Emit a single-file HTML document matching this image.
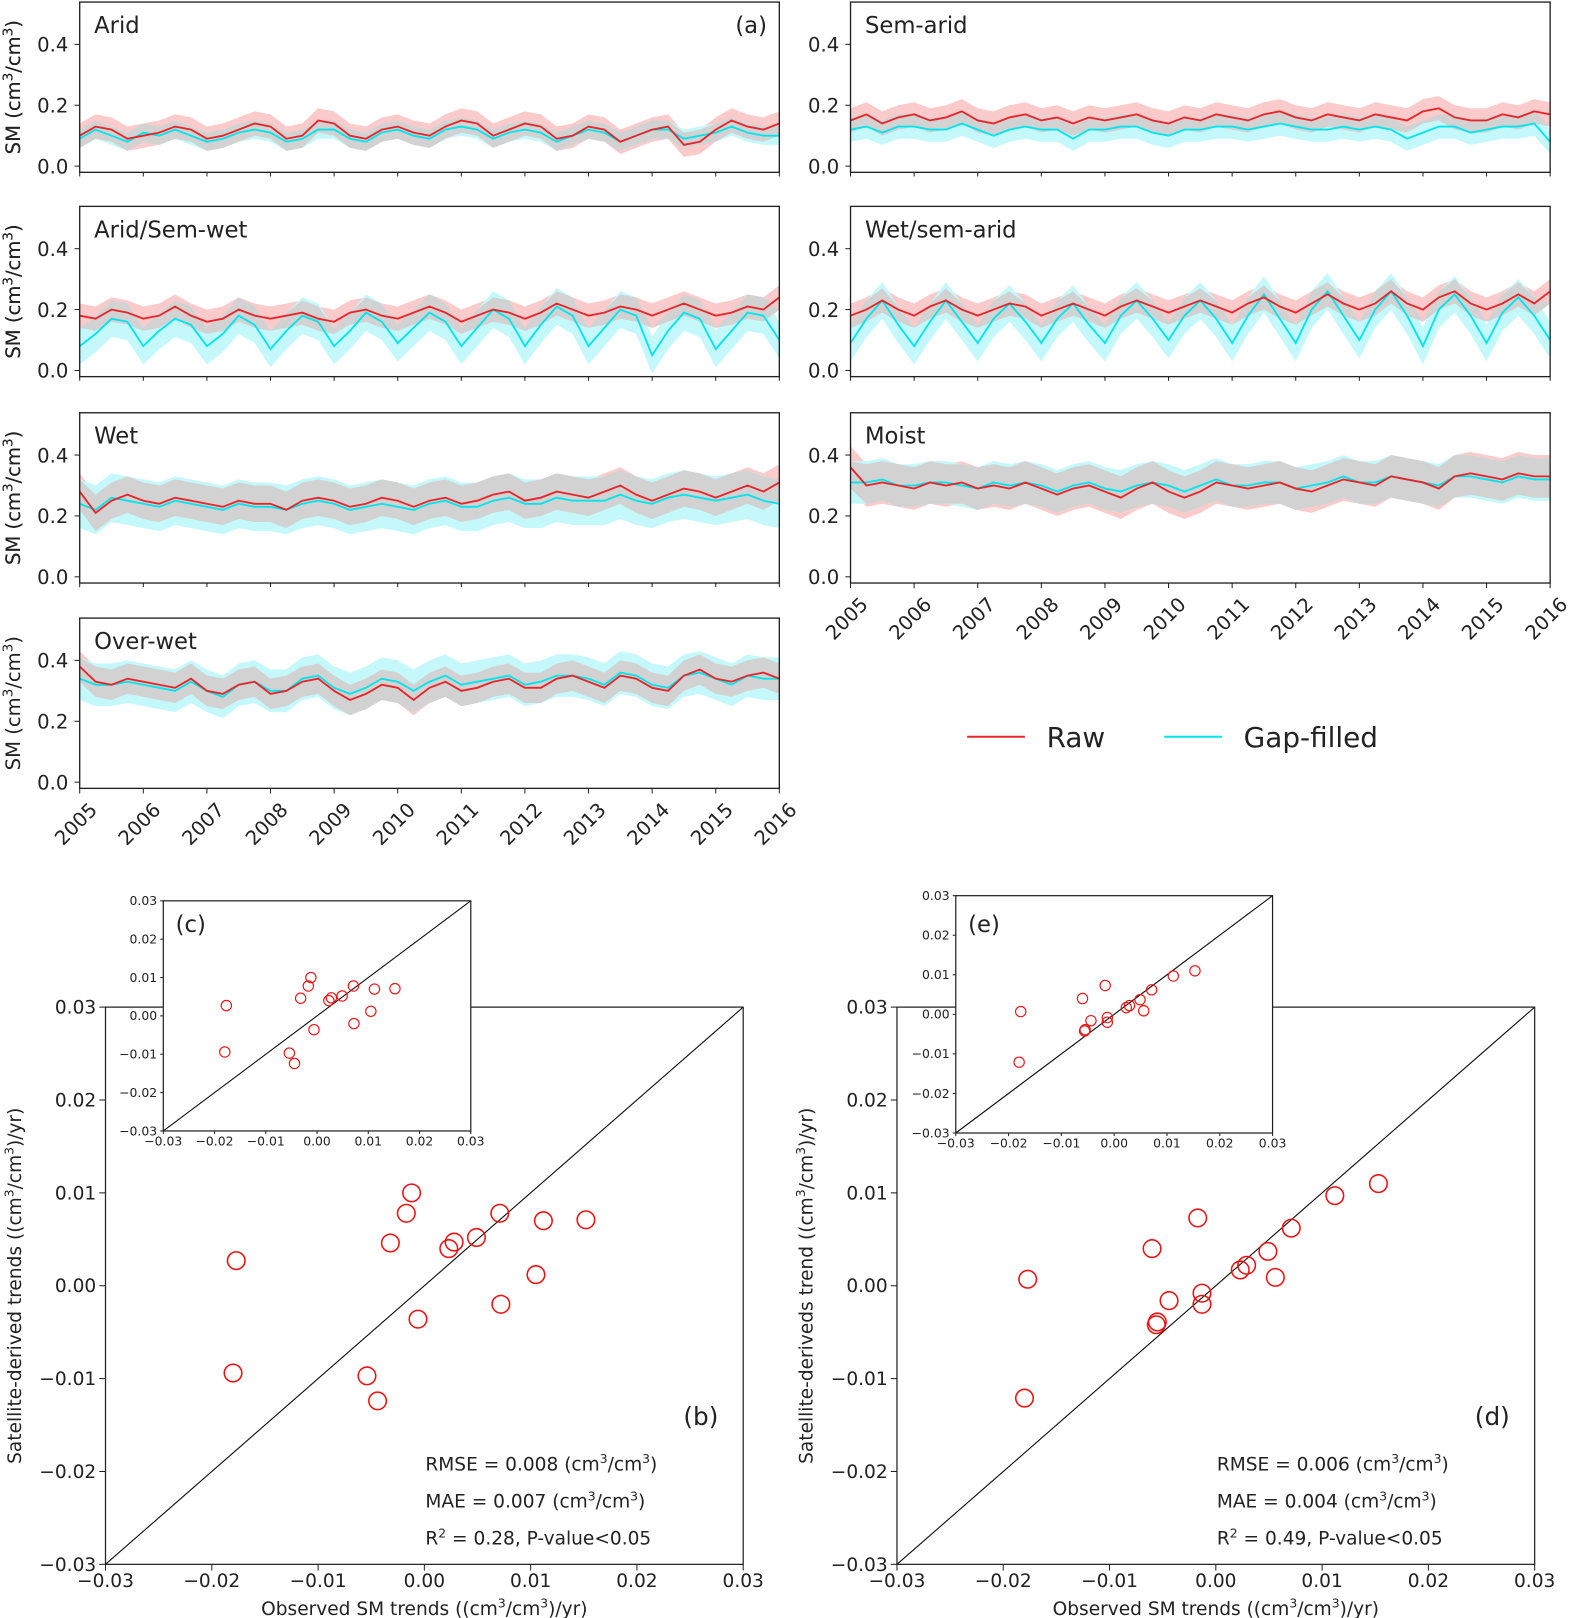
<!DOCTYPE html>
<html><head><meta charset="utf-8"><style>
html,body{margin:0;padding:0;background:#fff;}
svg{display:block;font-family:"DejaVu Sans","Liberation Sans",sans-serif;}
</style></head><body>
<svg id="fig" xmlns="http://www.w3.org/2000/svg" width="1570" height="1618" viewBox="0 0 1521 1568"></svg>
<script>
// ---------- time series data (quarterly samples 2005.0 .. 2016.0) ----------
const panelNames = ["Arid","Sem-arid","Arid/Sem-wet","Wet/sem-arid","Wet","Moist","Over-wet"];
const aridRaw=[0.10,0.13,0.12,0.09,0.10,0.11,0.13,0.12,0.09,0.10,0.12,0.14,0.13,0.09,0.10,0.15,0.14,0.10,0.09,0.12,0.13,0.11,0.10,0.13,0.15,0.14,0.10,0.12,0.14,0.13,0.09,0.10,0.13,0.12,0.08,0.10,0.12,0.13,0.07,0.08,0.12,0.15,0.13,0.12,0.14];
const aridGap=[0.09,0.12,0.10,0.08,0.11,0.10,0.12,0.10,0.08,0.09,0.11,0.12,0.11,0.08,0.09,0.12,0.12,0.09,0.08,0.11,0.12,0.10,0.09,0.12,0.13,0.12,0.09,0.11,0.12,0.11,0.08,0.10,0.12,0.11,0.08,0.10,0.12,0.12,0.09,0.10,0.11,0.13,0.11,0.10,0.10];
const semAridRaw=[0.15,0.17,0.14,0.16,0.17,0.15,0.16,0.18,0.15,0.14,0.16,0.17,0.15,0.16,0.14,0.16,0.15,0.16,0.17,0.15,0.14,0.16,0.15,0.17,0.16,0.15,0.17,0.18,0.16,0.15,0.17,0.16,0.15,0.17,0.16,0.15,0.18,0.19,0.16,0.15,0.15,0.17,0.16,0.18,0.17];
const semAridGap=[0.12,0.13,0.11,0.13,0.13,0.12,0.12,0.14,0.12,0.10,0.12,0.13,0.12,0.12,0.09,0.12,0.12,0.13,0.13,0.11,0.10,0.12,0.12,0.13,0.13,0.12,0.13,0.14,0.13,0.12,0.12,0.13,0.12,0.13,0.12,0.09,0.11,0.13,0.13,0.11,0.12,0.13,0.13,0.14,0.08];
const aridSemWetRaw=[0.18,0.17,0.20,0.19,0.17,0.18,0.21,0.18,0.16,0.17,0.20,0.18,0.17,0.18,0.19,0.17,0.16,0.19,0.20,0.18,0.17,0.19,0.21,0.19,0.16,0.18,0.20,0.19,0.17,0.19,0.22,0.20,0.18,0.19,0.21,0.20,0.18,0.20,0.22,0.20,0.18,0.19,0.21,0.20,0.24];
const aridSemWetGap=[0.08,0.12,0.17,0.16,0.08,0.13,0.17,0.15,0.08,0.12,0.18,0.15,0.07,0.13,0.18,0.16,0.08,0.13,0.19,0.16,0.09,0.14,0.19,0.16,0.08,0.14,0.20,0.17,0.08,0.15,0.21,0.18,0.08,0.14,0.20,0.18,0.05,0.13,0.19,0.17,0.07,0.13,0.19,0.18,0.10];
const wetSemAridRaw=[0.18,0.20,0.23,0.20,0.18,0.21,0.23,0.20,0.18,0.20,0.22,0.21,0.18,0.20,0.22,0.20,0.18,0.21,0.23,0.21,0.19,0.21,0.23,0.21,0.19,0.22,0.24,0.21,0.19,0.22,0.25,0.22,0.20,0.22,0.26,0.22,0.20,0.24,0.26,0.22,0.20,0.22,0.25,0.22,0.26];
const wetSemAridGap=[0.09,0.17,0.23,0.15,0.08,0.16,0.23,0.16,0.09,0.17,0.22,0.16,0.09,0.17,0.22,0.15,0.09,0.18,0.23,0.17,0.10,0.18,0.23,0.17,0.09,0.18,0.25,0.17,0.09,0.20,0.26,0.18,0.10,0.20,0.26,0.18,0.08,0.20,0.25,0.18,0.09,0.19,0.24,0.18,0.10];
const wetRaw=[0.28,0.21,0.25,0.27,0.25,0.24,0.26,0.25,0.24,0.23,0.25,0.24,0.24,0.22,0.25,0.26,0.25,0.23,0.24,0.26,0.25,0.23,0.25,0.26,0.24,0.25,0.27,0.28,0.25,0.26,0.28,0.27,0.26,0.28,0.30,0.27,0.25,0.27,0.29,0.28,0.26,0.28,0.30,0.28,0.31];
const wetGap=[0.24,0.22,0.26,0.25,0.24,0.23,0.25,0.24,0.23,0.22,0.24,0.23,0.23,0.22,0.24,0.25,0.24,0.22,0.23,0.24,0.23,0.22,0.24,0.25,0.23,0.23,0.25,0.26,0.24,0.24,0.26,0.25,0.25,0.25,0.27,0.25,0.24,0.26,0.27,0.26,0.25,0.26,0.27,0.25,0.24];
const moistRaw=[0.36,0.30,0.31,0.30,0.29,0.31,0.30,0.31,0.29,0.30,0.29,0.31,0.29,0.27,0.29,0.30,0.28,0.26,0.29,0.31,0.28,0.26,0.28,0.31,0.30,0.29,0.30,0.31,0.29,0.28,0.30,0.32,0.31,0.30,0.33,0.32,0.31,0.29,0.33,0.34,0.33,0.32,0.34,0.33,0.33];
const moistGap=[0.31,0.31,0.32,0.30,0.30,0.31,0.31,0.30,0.29,0.31,0.30,0.31,0.30,0.28,0.30,0.31,0.29,0.28,0.30,0.31,0.30,0.28,0.30,0.32,0.30,0.30,0.31,0.31,0.29,0.30,0.31,0.33,0.31,0.31,0.33,0.32,0.31,0.30,0.33,0.33,0.32,0.31,0.33,0.32,0.32];
const overWetRaw=[0.38,0.33,0.32,0.34,0.33,0.32,0.31,0.34,0.30,0.29,0.32,0.33,0.29,0.30,0.33,0.34,0.30,0.27,0.29,0.32,0.31,0.27,0.31,0.33,0.30,0.31,0.33,0.34,0.31,0.31,0.34,0.35,0.33,0.31,0.35,0.34,0.31,0.30,0.35,0.37,0.34,0.33,0.35,0.36,0.34];
const overWetGap=[0.34,0.32,0.32,0.33,0.32,0.31,0.30,0.33,0.30,0.28,0.32,0.33,0.30,0.30,0.34,0.35,0.31,0.29,0.31,0.34,0.33,0.30,0.33,0.35,0.32,0.33,0.34,0.35,0.32,0.33,0.35,0.35,0.34,0.32,0.36,0.35,0.32,0.31,0.35,0.36,0.34,0.32,0.35,0.34,0.34];
const rawSpread=[0.04,0.04,0.04,0.04,0.06,0.07,0.05];
const gapSpread=[0.03,0.04,0.06,0.06,0.08,0.07,0.07];
const yTicks=[0.0,0.2,0.4];
const yearTicks=[2005,2006,2007,2008,2009,2010,2011,2012,2013,2014,2015,2016];
// ---------- scatter data ----------
const obsB=[-0.0177,-0.0180,-0.0012,-0.0017,-0.0032,-0.0006,-0.0054,-0.0044,0.0023,0.0028,0.0049,0.0071,0.0072,0.0105,0.0112,0.0152];
const satB=[0.0027,-0.0094,0.0100,0.0078,0.0046,-0.0036,-0.0097,-0.0124,0.0040,0.0047,0.0052,0.0078,-0.0020,0.0012,0.0070,0.0071];
const obsD=[-0.0177,-0.0180,-0.0017,-0.0060,-0.0044,-0.0056,-0.0055,-0.0013,-0.0013,0.0023,0.0029,0.0049,0.0056,0.0071,0.0112,0.0153];
const satD=[0.0007,-0.0121,0.0073,0.0040,-0.0016,-0.0042,-0.0039,-0.0008,-0.0020,0.0017,0.0022,0.0037,0.0009,0.0062,0.0097,0.0110];
const trendTicks=[-0.03,-0.02,-0.01,0.00,0.01,0.02,0.03];

const NS="http://www.w3.org/2000/svg";
const svg=document.getElementById('fig');
function mk(tag,attrs,parent,txt){const e=document.createElementNS(NS,tag);for(const k in attrs)e.setAttribute(k,attrs[k]);if(txt!==undefined)e.textContent=txt;(parent||svg).appendChild(e);return e;}

const raws=[aridRaw,semAridRaw,aridSemWetRaw,wetSemAridRaw,wetRaw,moistRaw,overWetRaw];
const gaps=[aridGap,semAridGap,aridSemWetGap,wetSemAridGap,wetGap,moistGap,overWetGap];
const frames=[[77,2],[824,2],[77,200],[824,200],[77,400],[824,400],[77,599]];
const PW=678, PH=165;

function bandPath(fx,fy,lo,hi){let d='';for(let i=0;i<lo.length;i++)d+=(i?'L':'M')+fx(i)+','+fy(hi[i]);for(let i=lo.length-1;i>=0;i--)d+='L'+fx(i)+','+fy(lo[i]);return d+'Z';}
function linePath(fx,fy,v){return v.map((y,i)=>(i?'L':'M')+fx(i)+','+fy(y)).join('');}

panelNames.forEach((nm,p)=>{
  const [x0,y0]=frames[p];
  const g=mk('g',{});
  
  
  const yZero=y0+159, ppu=295;
  const fy=v=>yZero-v*ppu;
  const n=raws[p].length;
  const fx=i=>x0+i*(PW/(n-1));
  const r=raws[p], gp=gaps[p];
  const rLo=r.map(v=>v-rawSpread[p]), rHi=r.map(v=>v+rawSpread[p]);
  const gLo=gp.map(v=>v-gapSpread[p]), gHi=gp.map(v=>v+gapSpread[p]);
  const oLo=r.map((v,i)=>Math.max(rLo[i],gLo[i])), oHi=r.map((v,i)=>Math.max(Math.max(rLo[i],gLo[i]),Math.min(rHi[i],gHi[i])));
  const b1=mk('path',{d:bandPath(fx,fy,rLo,rHi),fill:'#fbcaca'},g);
  
  
  const b2=mk('path',{d:bandPath(fx,fy,gLo,gHi),fill:'#c4f8fa'},g);
  
  
  const b3=mk('path',{d:bandPath(fx,fy,oLo,oHi),fill:'#d2d2d2'},g);
  
  
  const l2=mk('path',{d:linePath(fx,fy,gp),fill:'none',stroke:'#00e5ee','stroke-width':1.8},g);
  
  
  const l1=mk('path',{d:linePath(fx,fy,r),fill:'none',stroke:'#e8262a','stroke-width':1.8},g);
  
  
  const fr=mk('rect',{x:x0,y:y0,width:PW,height:PH,fill:'none',stroke:'#222','stroke-width':1.3},g);
  
  
  yTicks.forEach(t=>{
    mk('line',{x1:x0-5,x2:x0,y1:fy(t),y2:fy(t),stroke:'#222'},g);
    const tl=mk('text',{x:x0-11,y:fy(t)+7,'text-anchor':'end','font-size':19,fill:'#222'},g,t.toFixed(1));
    
    
  });
  const cy=y0+PH/2;
  const yt=mk('text',{x:0,y:0,transform:`translate(19,${cy}) rotate(-90)`,'text-anchor':'middle','font-size':19,fill:'#222'},g);
  
  
  yt.innerHTML='SM (cm<tspan dy="-7" font-size="13">3</tspan><tspan dy="7">/cm</tspan><tspan dy="-7" font-size="13">3</tspan><tspan dy="7">)</tspan>';
  const lb=mk('text',{x:x0+14,y:y0+30,'font-size':22,fill:'#222'},g,nm);
  
  
  if(p===0){const a=mk('text',{x:x0+PW-12,y:y0+30,'text-anchor':'end','font-size':22,fill:'#222'},g,'(a)');
    
    }
  if(p===5||p===6){
    yearTicks.forEach(yr=>{
      const x=x0+(yr-2005)*(PW/11), yb=y0+PH;
      mk('line',{x1:x,x2:x,y1:yb,y2:yb+5,stroke:'#222'},g);
      const t=mk('text',{x:0,y:0,transform:`translate(${x+18},${yb+22}) rotate(-45)`,'text-anchor':'end','font-size':19,fill:'#222'},g,String(yr));
      
      
    });
  } else {
    yearTicks.forEach(yr=>{const x=x0+(yr-2005)*(PW/11);mk('line',{x1:x,x2:x,y1:y0+PH,y2:y0+PH+4,stroke:'#222'},g);});
  }
});
// legend
const lg=mk('g',{});


mk('line',{x1:937,x2:993,y1:714,y2:714,stroke:'#e8262a','stroke-width':2},lg);
const lt1=mk('text',{x:1014,y:724,'font-size':27,fill:'#222'},lg,'Raw');


mk('line',{x1:1128,x2:1184,y1:714,y2:714,stroke:'#00e5ee','stroke-width':2},lg);
const lt2=mk('text',{x:1205,y:724,'font-size':27,fill:'#222'},lg,'Gap-filled');



// ---------- scatter ----------
function scatter(o){
  const g=mk('g',{});
  
  
  const fx=v=>o.x0+(v+0.03)/0.06*o.w, fy=v=>o.y0+o.h-(v+0.03)/0.06*o.h;
  if(o.inset) mk('rect',{x:o.x0,y:o.y0,width:o.w,height:o.h,fill:'#fff'},g);
  mk('line',{x1:fx(-0.03),y1:fy(-0.03),x2:fx(0.03),y2:fy(0.03),stroke:'#111','stroke-width':1.1},g);
  o.xs.forEach((v,i)=>{const c=mk('circle',{cx:fx(v),cy:fy(o.ys[i]),r:o.r,fill:'none',stroke:'#f01010','stroke-width':o.inset?1.1:1.5},g);
    
    });
  const fr=mk('rect',{x:o.x0,y:o.y0,width:o.w,height:o.h,fill:'none',stroke:'#222','stroke-width':1.2},g);
  
  
  trendTicks.forEach(t=>{
    const lab=(t<0?'\u22120.0':'0.0')+Math.round(Math.abs(t)*100);
    mk('line',{x1:fx(t),x2:fx(t),y1:o.y0+o.h,y2:o.y0+o.h+(o.inset?3:6),stroke:'#222'},g);
    mk('line',{x1:o.x0-(o.inset?3:6),x2:o.x0,y1:fy(t),y2:fy(t),stroke:'#222'},g);
    const xl=mk('text',{x:fx(t),y:o.y0+o.h+(o.inset?14:22),'text-anchor':'middle','font-size':o.fs,fill:'#222'},g,lab);
    
    
    const yl=mk('text',{x:o.x0-(o.inset?6:9),y:fy(t)+o.fs*0.35,'text-anchor':'end','font-size':o.fs,fill:'#222'},g,lab);
    
    
  });
  const lt=mk('text',{x:o.lx,y:o.ly,'font-size':o.inset?22:24,fill:'#222'},g,o.letter);
  
  
  return g;
}
function bigScatter(x0,xs,ys,letter,stats,ytitle){
  const g=scatter({name:'scatter-'+letter.replace(/[()]/g,''),x0:x0,y0:976,w:618,h:540,xs:xs,ys:ys,r:8.5,fs:18,letter:letter,lx:x0+560,ly:1381});
  const cx=x0+309;
  const xt=mk('text',{x:cx,y:1565,'text-anchor':'middle','font-size':18,fill:'#222'},g);
  
  
  xt.innerHTML='Observed SM trends ((cm<tspan dy="-7" font-size="12">3</tspan><tspan dy="7">/cm</tspan><tspan dy="-7" font-size="12">3</tspan><tspan dy="7">)/yr)</tspan>';
  const yt=mk('text',{x:0,y:0,transform:`translate(${x0-82},1246) rotate(-90)`,'text-anchor':'middle','font-size':18,fill:'#222'},g);
  
  
  yt.innerHTML=ytitle+' ((cm<tspan dy="-7" font-size="12">3</tspan><tspan dy="7">/cm</tspan><tspan dy="-7" font-size="12">3</tspan><tspan dy="7">)/yr)</tspan>';
  const sup='(cm<tspan dy="-7" font-size="12">3</tspan><tspan dy="7">/cm</tspan><tspan dy="-7" font-size="12">3</tspan><tspan dy="7">)</tspan>';
  const t1=mk('text',{x:x0+310,y:1425,'font-size':18,fill:'#222'},g);t1.innerHTML='RMSE = '+stats[0]+' '+sup;
  
  
  const t2=mk('text',{x:x0+310,y:1461,'font-size':18,fill:'#222'},g);t2.innerHTML='MAE = '+stats[1]+' '+sup;
  
  
  const t3=mk('text',{x:x0+310,y:1497,'font-size':18,fill:'#222'},g);t3.innerHTML='R<tspan dy="-7" font-size="12">2</tspan><tspan dy="7"> = '+stats[2]+', P-value&lt;0.05</tspan>';
  
  
}
bigScatter(102,obsB,satB,'(b)',['0.008','0.007','0.28'],'Satellite-derived trends');
scatter({name:'inset-c',inset:true,x0:158,y0:873,w:298,h:223,xs:obsB,ys:satB,r:5,fs:12,letter:'(c)',lx:170,ly:903});
bigScatter(869,obsD,satD,'(d)',['0.006','0.004','0.49'],'Satellite-deriveds trend');
scatter({name:'inset-e',inset:true,x0:926,y0:868,w:307,h:230,xs:obsD,ys:satD,r:5,fs:12,letter:'(e)',lx:938,ly:903});
</script>
</body></html>
